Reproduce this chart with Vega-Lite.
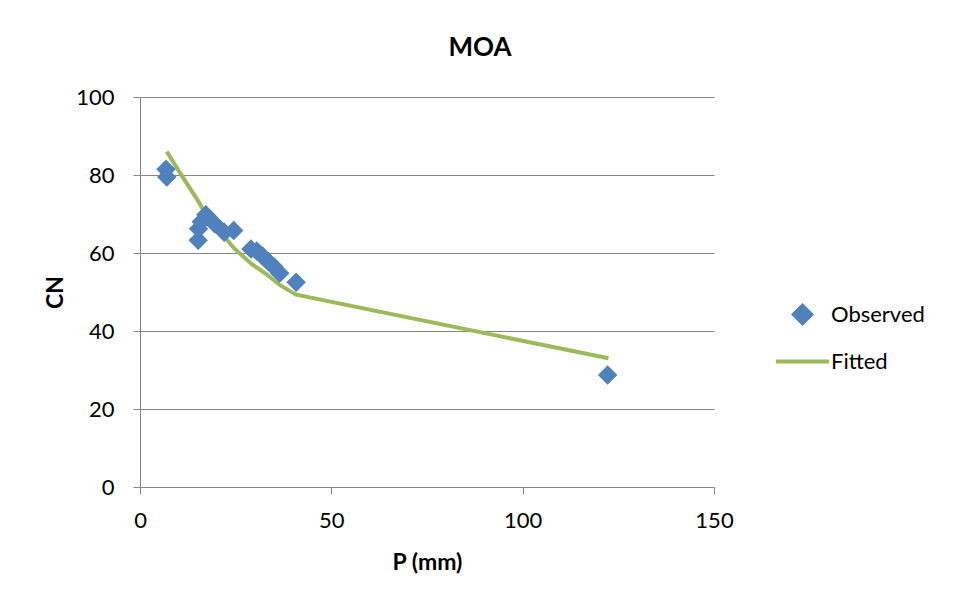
{
  "$schema": "https://vega.github.io/schema/vega-lite/v6.json",
  "width": 574,
  "height": 390,
  "autosize": {"type": "none"},
  "padding": {"left": 140, "top": 97, "right": 249, "bottom": 122},
  "background": "white",
  "title": {
    "text": "MOA",
    "font": "Lato",
    "fontSize": 26,
    "fontWeight": "bold",
    "color": "#000000",
    "anchor": "middle",
    "dx": 53,
    "offset": 25
  },
  "data": {
    "values": [
      {"P": 6.8, "CN": 81.5, "series": "Observed"},
      {"P": 7.0, "CN": 79.5, "series": "Observed"},
      {"P": 15.2, "CN": 63.3, "series": "Observed"},
      {"P": 15.3, "CN": 66.2, "series": "Observed"},
      {"P": 16.0, "CN": 68.0, "series": "Observed"},
      {"P": 17.2, "CN": 69.8, "series": "Observed"},
      {"P": 19.5, "CN": 67.5, "series": "Observed"},
      {"P": 22.0, "CN": 65.3, "series": "Observed"},
      {"P": 24.5, "CN": 65.8, "series": "Observed"},
      {"P": 29.0, "CN": 61.0, "series": "Observed"},
      {"P": 30.5, "CN": 60.5, "series": "Observed"},
      {"P": 32.0, "CN": 59.2, "series": "Observed"},
      {"P": 33.5, "CN": 57.8, "series": "Observed"},
      {"P": 35.0, "CN": 56.5, "series": "Observed"},
      {"P": 36.5, "CN": 54.8, "series": "Observed"},
      {"P": 40.8, "CN": 52.5, "series": "Observed"},
      {"P": 122.2, "CN": 28.7, "series": "Observed"},
      {"P": 7.0, "CN": 86.0, "series": "Fitted"},
      {"P": 11.0, "CN": 79.7, "series": "Fitted"},
      {"P": 15.2, "CN": 73.3, "series": "Fitted"},
      {"P": 17.0, "CN": 70.3, "series": "Fitted"},
      {"P": 19.5, "CN": 67.2, "series": "Fitted"},
      {"P": 22.0, "CN": 64.3, "series": "Fitted"},
      {"P": 24.5, "CN": 61.3, "series": "Fitted"},
      {"P": 29.0, "CN": 57.3, "series": "Fitted"},
      {"P": 33.0, "CN": 54.6, "series": "Fitted"},
      {"P": 36.5, "CN": 51.8, "series": "Fitted"},
      {"P": 40.8, "CN": 49.3, "series": "Fitted"},
      {"P": 122.4, "CN": 33.0, "series": "Fitted"}
    ]
  },
  "encoding": {
    "x": {
      "field": "P",
      "type": "quantitative",
      "scale": {"domain": [0, 150], "nice": false, "zero": true},
      "axis": {
        "title": "P (mm)",
        "values": [0, 50, 100, 150],
        "grid": false,
        "tickSize": 7,
        "labelFlush": false,
        "labelPadding": 16,
        "titlePadding": 20
      }
    },
    "y": {
      "field": "CN",
      "type": "quantitative",
      "scale": {"domain": [0, 100], "nice": false},
      "axis": {
        "title": "CN",
        "values": [0, 20, 40, 60, 80, 100],
        "grid": true,
        "tickSize": 7,
        "labelFlush": false,
        "labelPadding": 19,
        "titlePadding": 8
      }
    },
    "color": {
      "field": "series",
      "type": "nominal",
      "scale": {"domain": ["Observed", "Fitted"], "range": ["#4F81BD", "#9BBB59"]},
      "legend": {
        "title": null,
        "orient": "none",
        "legendX": 634,
        "legendY": 189,
        "labelFont": "Lato",
        "labelFontSize": 22,
        "labelColor": "#000000",
        "labelOffset": 0,
        "rowPadding": 1,
        "symbolSize": 2809,
        "symbolStrokeWidth": 4,
        "encode": {
          "symbols": {
            "update": {
              "shape": {"signal": "datum.value === 'Observed' ? 'diamond' : 'stroke'"},
              "size": {"signal": "datum.value === 'Observed' ? 300 : 2809"},
              "fill": {"signal": "datum.value === 'Observed' ? '#4F81BD' : 'transparent'"},
              "stroke": {"signal": "datum.value === 'Observed' ? 'transparent' : '#9BBB59'"},
              "strokeWidth": {"value": 4},
              "opacity": {"value": 1}
            }
          }
        }
      }
    }
  },
  "layer": [
    {
      "transform": [{"filter": "datum.series === 'Fitted'"}],
      "mark": {"type": "line", "strokeWidth": 4, "interpolate": "linear"}
    },
    {
      "transform": [{"filter": "datum.series === 'Observed'"}],
      "mark": {"type": "point", "shape": "diamond", "filled": true, "size": 380, "opacity": 1}
    }
  ],
  "config": {
    "view": {"stroke": null},
    "axis": {
      "labelFont": "Lato",
      "labelFontSize": 22,
      "labelColor": "#000000",
      "titleFont": "Lato",
      "titleFontSize": 23,
      "titleFontWeight": "bold",
      "titleColor": "#000000",
      "domainColor": "#868686",
      "tickColor": "#868686",
      "gridColor": "#868686",
      "domainWidth": 1,
      "gridWidth": 1
    }
  }
}
